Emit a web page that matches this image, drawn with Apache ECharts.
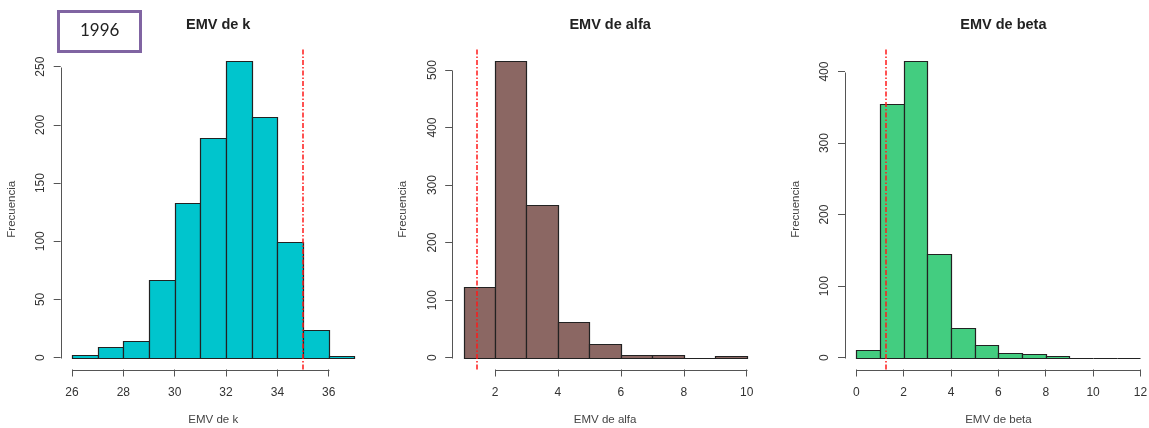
<!DOCTYPE html>
<html>
<head>
<meta charset="utf-8">
<script src="https://cdn.jsdelivr.net/npm/echarts@6/dist/echarts.min.js"></script>
<style>
html,body{margin:0;padding:0;background:#fff;}
#chart{width:1149px;height:428px;}
</style>
</head>
<body>
<div id="chart"></div>
<script>
// ---- Data ----
const kBreaks = [26, 27, 28, 29, 30, 31, 32, 33, 34, 35, 36, 37];
const kCounts = [2, 9, 14, 67, 133, 189, 255, 207, 99, 24, 1];
const kRef = 35.0;
const kXTicks = [26, 28, 30, 32, 34, 36];
const kYTicks = [0, 50, 100, 150, 200, 250];

const alfaBreaks = [1, 2, 3, 4, 5, 6, 7, 8, 9, 10];
const alfaCounts = [122, 516, 265, 62, 23, 4, 5, 0, 2];
const alfaRef = 1.42;
const alfaXTicks = [2, 4, 6, 8, 10];
const alfaYTicks = [0, 100, 200, 300, 400, 500];

const betaBreaks = [0, 1, 2, 3, 4, 5, 6, 7, 8, 9, 10, 11, 12];
const betaCounts = [11, 354, 415, 145, 42, 17, 7, 5, 2, 0, 0, 0];
const betaRef = 1.25;
const betaXTicks = [0, 2, 4, 6, 8, 10, 12];
const betaYTicks = [0, 100, 200, 300, 400];

const titles = ['EMV de k', 'EMV de alfa', 'EMV de beta'];
const xNames = ['EMV de k', 'EMV de alfa', 'EMV de beta'];
const yName = 'Frecuencia';
const boxLabel = '1996';

// ---- Styles / layout ----
const colors = ['#00C5CD', '#8B6763', '#43CD80'];
const panels = [
  {breaks: kBreaks, counts: kCounts, ref: kRef, xt: kXTicks, yt: kYTicks},
  {breaks: alfaBreaks, counts: alfaCounts, ref: alfaRef, xt: alfaXTicks, yt: alfaYTicks},
  {breaks: betaBreaks, counts: betaCounts, ref: betaRef, xt: betaXTicks, yt: betaYTicks}
];
const frames = [
  {left: 60.7, width: 305},
  {left: 452.2, width: 305.8},
  {left: 845, width: 306.8}
];
const plotTop = 49, plotHeight = 320.5;
const FONT = '"Liberation Sans", Arial, sans-serif';
const axisColor = '#555';

const grids = [], xAxes = [], yAxes = [], series = [], titleList = [];

panels.forEach((p, i) => {
  const xr = p.breaks[p.breaks.length - 1] - p.breaks[0];
  const xmin = p.breaks[0] - 0.04 * xr;
  const xmax = p.breaks[p.breaks.length - 1] + 0.04 * xr;
  const ymaxData = Math.max.apply(null, p.counts);
  const ymin = -0.04 * ymaxData;
  const ymax = 1.04 * ymaxData;
  const f = frames[i];

  grids.push({left: f.left, top: plotTop, width: f.width, height: plotHeight,
              containLabel: false, outerBoundsMode: 'none'});
  xAxes.push({
    type: 'value', gridIndex: i, min: xmin, max: xmax, position: 'bottom',
    axisLine: {show: false, onZero: false}, splitLine: {show: false},
    axisTick: {show: true, inside: false, length: 7, customValues: p.xt, lineStyle: {color: axisColor, width: 1}},
    axisLabel: {show: true, customValues: p.xt, margin: 17, color: '#333', fontSize: 12, fontFamily: FONT},
    name: xNames[i], nameLocation: 'middle', nameGap: 44,
    nameTextStyle: {color: '#444', fontSize: 11.5, fontFamily: FONT}
  });
  yAxes.push({
    type: 'value', gridIndex: i, min: ymin, max: ymax, position: 'left',
    axisLine: {show: false, onZero: false}, splitLine: {show: false},
    axisTick: {show: true, inside: false, length: 7, customValues: p.yt, lineStyle: {color: axisColor, width: 1}},
    axisLabel: {show: true, customValues: p.yt, rotate: 90, margin: 14, color: '#333', fontSize: 12, fontFamily: FONT},
    name: yName, nameLocation: 'middle', nameGap: 43, nameRotate: 90,
    nameTextStyle: {color: '#444', fontSize: 11.5, fontFamily: FONT}
  });

  const barData = p.counts.map((c, j) => [p.breaks[j], p.breaks[j + 1], c]);
  const fill = colors[i];
  series.push({
    type: 'custom', xAxisIndex: i, yAxisIndex: i, clip: false,
    encode: {x: [0, 1], y: 2},
    data: barData,
    renderItem: function (params, api) {
      const a = api.coord([api.value(0), 0]);
      const b = api.coord([api.value(1), api.value(2)]);
      const x0 = Math.round(a[0]) + 0.5, x1 = Math.round(b[0]) + 0.5;
      const y0 = Math.round(a[1]) + 0.5, y1 = Math.round(b[1]) + 0.5;
      return {
        type: 'rect',
        shape: {x: x0, y: y1, width: x1 - x0, height: y0 - y1},
        style: {fill: fill, stroke: '#222', lineWidth: 1.2}
      };
    },
    markLine: {
      silent: true, symbol: ['none', 'none'], label: {show: false},
      lineStyle: {color: '#FF1A1A', width: 1.5, type: [5, 2, 1.5, 2]},
      data: [{xAxis: p.ref}]
    },
    z: 2
  });

  // R-style axis lines spanning first to last tick
  const xt0 = p.xt[0], xtN = p.xt[p.xt.length - 1];
  const yt0 = p.yt[0], ytN = p.yt[p.yt.length - 1];
  series.push({
    type: 'custom', xAxisIndex: i, yAxisIndex: i, clip: false, silent: true,
    data: [[xt0, xtN, yt0, ytN]],
    encode: {x: [0, 1], y: [2, 3]},
    renderItem: function (params, api) {
      const ax0 = api.coord([api.value(0), ymin]);
      const ax1 = api.coord([api.value(1), ymin]);
      const ay0 = api.coord([xmin, api.value(2)]);
      const ay1 = api.coord([xmin, api.value(3)]);
      const r = v => Math.round(v) + 0.5;
      return {
        type: 'group',
        children: [
          {type: 'line', shape: {x1: r(ax0[0]), y1: r(ax0[1]), x2: r(ax1[0]), y2: r(ax1[1])},
           style: {stroke: axisColor, lineWidth: 1}},
          {type: 'line', shape: {x1: r(ay0[0]), y1: r(ay0[1]), x2: r(ay1[0]), y2: r(ay1[1])},
           style: {stroke: axisColor, lineWidth: 1}}
        ]
      };
    },
    z: 1
  });

  titleList.push({
    text: titles[i],
    left: f.left + f.width / 2, top: 12, textAlign: 'center',
    textStyle: {fontFamily: FONT, fontWeight: 'bold', fontSize: 14.5, color: '#222'}
  });
});

const chart = echarts.init(document.getElementById('chart'), null, {renderer: 'canvas'});
chart.setOption({
  animation: false,
  backgroundColor: '#fff',
  title: titleList,
  grid: grids,
  xAxis: xAxes,
  yAxis: yAxes,
  series: series,
  graphic: [
    {
      type: 'rect', left: 57, top: 10, z: 10,
      shape: {width: 82, height: 40},
      style: {fill: '#fff', stroke: '#8064A2', lineWidth: 3}
    },
    {
      type: 'text', left: 80, top: 22, z: 11,
      style: {text: boxLabel, fill: '#222', font: '17px Lato, "Open Sans", sans-serif'}
    }
  ]
});
</script>
</body>
</html>
